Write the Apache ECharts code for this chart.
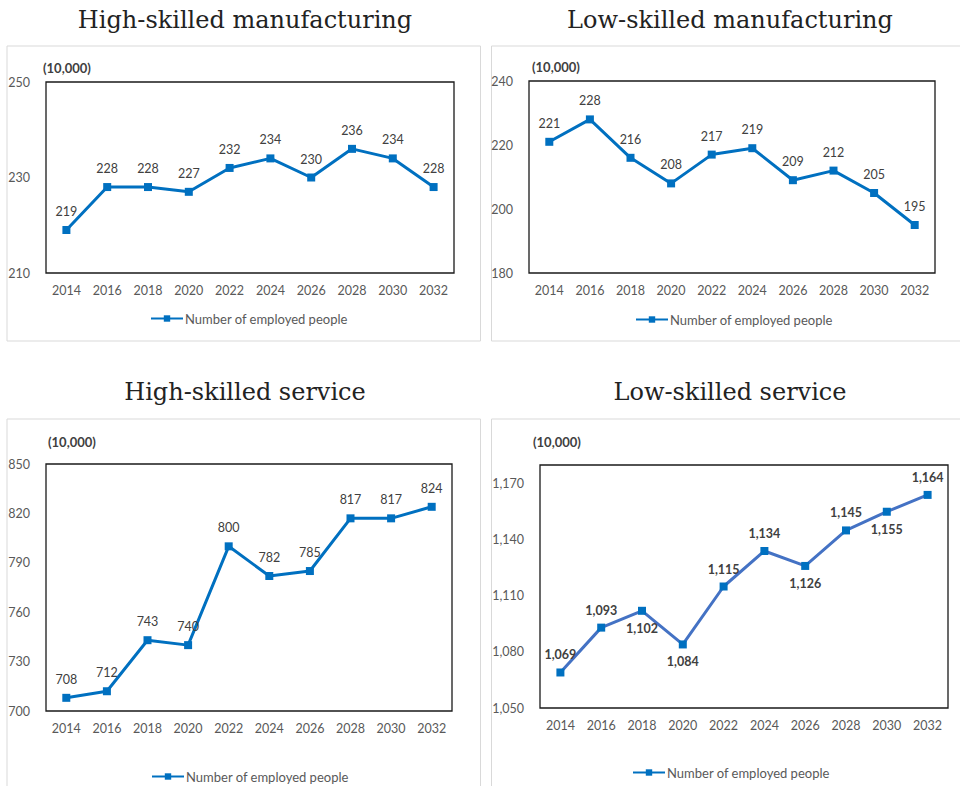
<!DOCTYPE html>
<html>
<head>
<meta charset="utf-8">
<script src="https://cdn.jsdelivr.net/npm/echarts@6/dist/echarts.min.js"></script>
<style>
html,body{margin:0;padding:0;background:#fff;}
#c{width:960px;height:786px;}
</style>
</head>
<body>
<div id="c"></div>
<script>
const years = ['2014','2016','2018','2020','2022','2024','2026','2028','2030','2032'];
const highMfg = [219, 228, 228, 227, 232, 234, 230, 236, 234, 228];
const lowMfg = [221, 228, 216, 208, 217, 219, 209, 212, 205, 195];
const highSvc = [708, 712, 743, 740, 800, 782, 785, 817, 817, 824];
const lowSvc = [1069, 1093, 1102, 1084, 1115, 1134, 1126, 1145, 1155, 1164];
const titles = ['High-skilled manufacturing', 'Low-skilled manufacturing', 'High-skilled service', 'Low-skilled service'];
const seriesName = 'Number of employed people';
const unitText = '(10,000)';
const lowSvcLabelSide = ['top','top','bottom','bottom','top','top','bottom','top','bottom','top'];

const fmt = v => Number(v).toLocaleString('en-US');
const FONT = 'Lato, "Open Sans", sans-serif';

const panels = [
  {grid:{left:46, top:82, width:408, height:191}, min:210, max:250, interval:20, data:highMfg,
   frame:[7,46,473.5,295], title:[245,20], unit:[43,68], legend:[150,319], line:'#0070C0', bold:false},
  {grid:{left:529, top:81, width:406, height:192}, min:180, max:240, interval:20, data:lowMfg,
   frame:[491.5,46,480,295], title:[730,20], unit:[532,67], legend:[635,320], line:'#0070C0', bold:false},
  {grid:{left:46, top:464, width:406, height:247}, min:700, max:850, interval:30, data:highSvc,
   frame:[7,419,473.5,380], title:[245,392], unit:[48,442], legend:[151,777], line:'#0070C0', bold:false},
  {grid:{left:540, top:465, width:408, height:243}, min:1050, max:1180, interval:30, data:lowSvc,
   frame:[491.5,419,480,380], title:[730,392], unit:[533,442], legend:[632,773], line:'#4472C4', bold:true, sides:lowSvcLabelSide}
];

const grids = [], xAxes = [], yAxes = [], series = [], legends = [], graphics = [];
panels.forEach((p, i) => {
  grids.push(Object.assign({show:true, borderColor:'#1a1a1a', borderWidth:1.3, backgroundColor:'transparent'}, p.grid));
  xAxes.push({type:'category', gridIndex:i, data:years, boundaryGap:true,
    axisLine:{show:false}, axisTick:{show:false},
    axisLabel:{color:'#595959', fontFamily:FONT, fontSize:12.5, margin:11}});
  yAxes.push({type:'value', gridIndex:i, min:p.min, max:p.max, interval:p.interval,
    splitLine:{show:false}, axisLine:{show:false}, axisTick:{show:false},
    axisLabel:{color:'#595959', fontFamily:FONT, fontSize:12.5, margin:16, formatter:fmt, showMaxLabel: i===3 ? false : true}});
  const data = p.data.map((v, k) => {
    const d = {value:v};
    if (p.sides) d.label = {position: p.sides[k], distance: 7};
    return d;
  });
  series.push({name:seriesName, type:'line', xAxisIndex:i, yAxisIndex:i, data:data,
    symbol:'rect', symbolSize:8, lineStyle:{color:p.line, width:3}, itemStyle:{color:'#0070C0'},
    label:{show:true, position:'top', distance:8, color:'#404040', fontFamily:FONT, fontSize:12.5,
      fontWeight:p.bold?'bold':'normal', formatter: o => fmt(o.value)},
    emphasis:{disabled:true}, animation:false, z:3});
  legends.push({left:p.legend[0], top:p.legend[1]-7, padding:0, itemWidth:32, itemHeight:8, itemGap:2,
    data:[seriesName], textStyle:{color:'#595959', fontFamily:FONT, fontSize:13, padding:[0,0,0,-3]}, selectedMode:false});
  graphics.push({type:'rect', shape:{x:p.frame[0], y:p.frame[1], width:p.frame[2], height:p.frame[3]},
    style:{fill:'none', stroke:'#d9d9d9', lineWidth:1}, z:-1});
  graphics.push({type:'text', x:p.title[0], y:p.title[1],
    style:{text:titles[i], fill:'#222', font:'24px "DejaVu Serif", serif', textAlign:'center', textVerticalAlign:'middle'}});
  graphics.push({type:'text', x:p.unit[0], y:p.unit[1],
    style:{text:unitText, fill:'#404040', font:'bold 13px Lato, sans-serif', textAlign:'left', textVerticalAlign:'middle'}});
});

const chart = echarts.init(document.getElementById('c'), null, {renderer:'svg'});
chart.setOption({
  animation:false,
  backgroundColor:'#ffffff',
  grid:grids, xAxis:xAxes, yAxis:yAxes, series:series, legend:legends, graphic:graphics
});
</script>
</body>
</html>
